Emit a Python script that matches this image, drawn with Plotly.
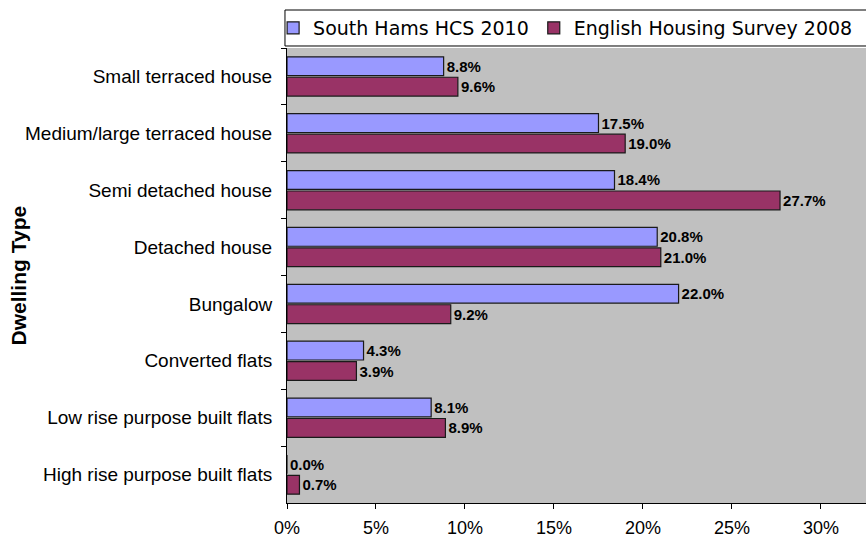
import plotly.graph_objects as go

categories = [
    "Small terraced house",
    "Medium/large terraced house",
    "Semi detached house",
    "Detached house",
    "Bungalow",
    "Converted flats",
    "Low rise purpose built flats",
    "High rise purpose built flats",
]
south_hams = [8.8, 17.5, 18.4, 20.8, 22.0, 4.3, 8.1, 0.0]
ehs_2008 = [9.6, 19.0, 27.7, 21.0, 9.2, 3.9, 8.9, 0.7]
x_ticks = [0, 5, 10, 15, 20, 25, 30]
x_tick_labels = ["0%", "5%", "10%", "15%", "20%", "25%", "30%"]

label_font = dict(family="Liberation Sans, Arial", size=15, color="#000000")

fig = go.Figure()
fig.add_bar(
    y=categories, x=south_hams, orientation="h", name="South Hams HCS 2010",
    marker=dict(color="#9999FF", line=dict(color="#1a1a1a", width=1.2)),
    texttemplate="<b>%{x:.1f}%</b>", textposition="outside",
    textfont=label_font, cliponaxis=False,
)
fig.add_bar(
    y=categories, x=ehs_2008, orientation="h", name="English Housing Survey 2008",
    marker=dict(color="#993366", line=dict(color="#1a1a1a", width=1.2)),
    texttemplate="<b>%{x:.1f}%</b>", textposition="outside",
    textfont=label_font, cliponaxis=False,
)

fig.update_layout(
    width=866, height=540,
    margin=dict(l=287, r=0, t=48, b=37, pad=0, autoexpand=False),
    paper_bgcolor="white",
    plot_bgcolor="#C0C0C0",
    barmode="group",
    bargap=0.28,
    bargroupgap=0.08,
    font=dict(family="Liberation Sans, Arial", size=18, color="#000000"),
    showlegend=True,
    legend=dict(
        orientation="h", x=-0.024, xanchor="left", y=1.044, yanchor="middle",
        font=dict(family="DejaVu Sans, Verdana", size=19, color="#000000"),
        bgcolor="rgba(0,0,0,0)", borderwidth=0,
        traceorder="normal",
    ),
    shapes=[dict(
        type="rect", xref="paper", yref="paper",
        x0=-0.0035, x1=1.002, y0=1.0044, y1=1.0835,
        line=dict(color="#000000", width=1), fillcolor="white", layer="above",
    )],
    annotations=[dict(
        text="<b>Dwelling Type</b>", xref="paper", yref="paper",
        x=-0.4629, y=0.5, xanchor="center", yanchor="middle",
        textangle=-90, showarrow=False,
        font=dict(family="Liberation Sans, Arial", size=21, color="#000000"),
    )],
)

fig.update_xaxes(
    range=[0, 32.53], automargin=False,
    tickmode="array", tickvals=x_ticks, ticktext=x_tick_labels,
    ticks="outside", ticklen=5, tickcolor="#000000",
    showline=True, linecolor="#000000", linewidth=1,
    showgrid=False, zeroline=False,
    tickfont=dict(family="Liberation Sans, Arial", size=18, color="#000000"),
    ticklabelstandoff=3,
)
fig.update_yaxes(
    autorange="reversed", automargin=False,
    ticks="outside", ticklen=5, tickcolor="#000000", tickson="boundaries",
    showline=True, linecolor="#000000", linewidth=1,
    showgrid=False, zeroline=False,
    tickfont=dict(family="Liberation Sans, Arial", size=19, color="#000000"),
    ticklabelstandoff=10,
)

fig.write_html(
    "out.html",
    config={"displayModeBar": False},
    post_script="document.body.style.margin='0';document.body.style.overflow='hidden';",
)
